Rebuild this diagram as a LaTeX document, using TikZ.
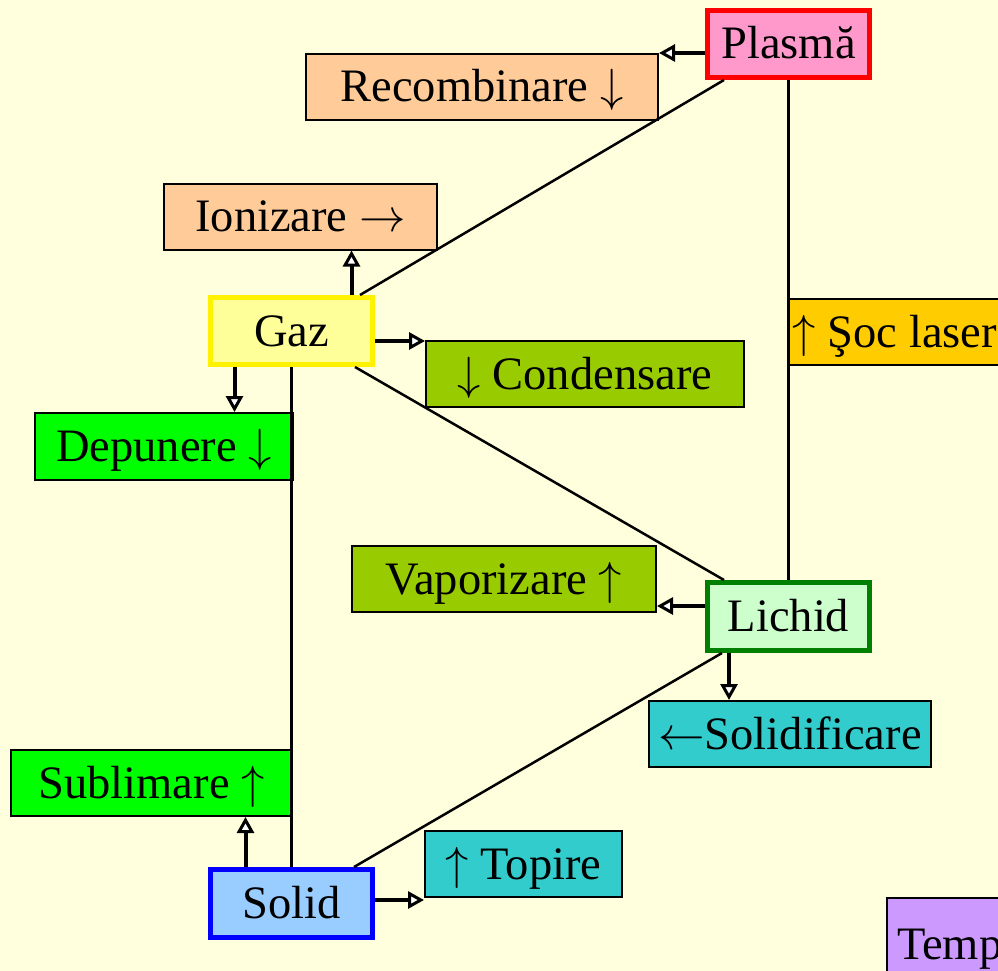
\documentclass[tikz,border=0pt]{standalone}
\usepackage{graphicx}
\usepackage{fontspec}
\setmainfont{Liberation Serif}
\usetikzlibrary{arrows.meta}
\definecolor{bg}{HTML}{FFFFDD}
\definecolor{peach}{HTML}{FFCC99}
\definecolor{olive}{HTML}{99CC00}
\definecolor{lgreen}{HTML}{00FF00}
\definecolor{teal2}{HTML}{33CCCC}
\definecolor{gold}{HTML}{FFCC00}
\definecolor{pinkf}{HTML}{FF99CC}
\definecolor{yelf}{HTML}{FFFF99}
\definecolor{mintf}{HTML}{CCFFCC}
\definecolor{bluef}{HTML}{99CCFF}
\definecolor{violf}{HTML}{CC99FF}
\definecolor{dgreen}{HTML}{008000}
\newcommand{\au}{\scalebox{4.65}{\fontsize{10}{12}\selectfont$\uparrow$}}
\newcommand{\ad}{\scalebox{4.65}{\fontsize{10}{12}\selectfont$\downarrow$}}
\newcommand{\al}{\scalebox{4.65}{\fontsize{10}{12}\selectfont$\leftarrow$}}
\newcommand{\ar}{\scalebox{4.65}{\fontsize{10}{12}\selectfont$\rightarrow$}}
\tikzset{
  lbl/.style={draw=black, line width=2pt, inner sep=0pt, font=\fontsize{46.5}{52}\selectfont, minimum height=66pt, text height=37pt, text depth=7pt},
  state/.style={line width=5pt, inner sep=0pt, font=\fontsize{46.5}{52}\selectfont, minimum width=162pt, text height=37pt, text depth=7pt},
  arr/.style={line width=4pt, -{Triangle[open, fill=white, line width=3pt, length=16pt, width=17pt]}},
  thin/.style={line width=2.5pt}
}
\begin{document}
\begin{tikzpicture}[x=1pt, y=-1pt]
\fill[bg] (0,0) rectangle (998,971);
\useasboundingbox (0,0) rectangle (998,971);
\begin{scope}
\clip (0,0) rectangle (998,971);
% state nodes
\node[state, draw=red, fill=pinkf, minimum height=67pt] (plasma) at (788.5,44) {Plasmă};
\node[state, draw=yellow, fill=yelf, minimum height=67pt] (gaz) at (291.5,331) {Gaz};
\node[state, draw=dgreen, fill=mintf, minimum height=68pt] (lichid) at (788.5,616.5) {Lichid};
\node[state, draw=blue, fill=bluef, minimum height=68pt] (solid) at (291.5,903.5) {Solid};
% label nodes
\node[lbl, fill=peach, minimum width=352pt] (recomb) at (482,87) {Recombinare \ad};
\node[lbl, fill=peach, minimum width=273pt] (ioniz) at (300.5,216.5) {Ionizare \ar};
\node[lbl, fill=olive, minimum width=318pt] (cond) at (585,374) {\ad{} Condensare};
\node[lbl, fill=lgreen, minimum width=258pt, minimum height=67pt] (depun) at (164,446.5) {Depunere \ad};
\node[lbl, fill=gold, minimum width=212pt, anchor=west, inner xsep=1pt] (soc) at (788,332) {\au{} Şoc laser};
\node[lbl, fill=olive, minimum width=304pt] (vapor) at (504,579) {Vaporizare \au};
\node[lbl, fill=teal2, minimum width=282pt] (solidif) at (790,734) {\al Solidificare};
\node[lbl, fill=lgreen, minimum width=281pt] (sublim) at (151.5,783) {Sublimare \au};
\node[lbl, fill=teal2, minimum width=197pt] (topire) at (523.5,864) {\au{} Topire};
\node[lbl, fill=violf, anchor=north west, minimum width=200pt, minimum height=92pt, text width=186pt, align=left, inner xsep=10pt] (temp) at (886,897) {Temp};
% connecting lines
\draw[thin] ([xshift=19pt]plasma.south west) -- ([xshift=-15pt]gaz.north east);
\draw[thin] (plasma.south) -- (lichid.north);
\draw[thin] ([xshift=-20pt]gaz.south east) -- ([xshift=19pt]lichid.north west);
\draw[thin] (gaz.south) -- (solid.north);
\draw[thin] ([xshift=17pt]lichid.south west) -- ([xshift=-21pt]solid.north east);
% arrows
\coordinate (a1) at ([yshift=-9pt]plasma.west);
\draw[arr] (a1) -- (a1 -| recomb.east);
\coordinate (a2) at ([xshift=60pt]gaz.north);
\draw[arr] (a2) -- (a2 |- ioniz.south);
\coordinate (a3) at ([yshift=-10pt]gaz.east);
\draw[arr] (a3) -- (a3 -| cond.west);
\coordinate (a4) at ([xshift=-57pt]gaz.south);
\draw[arr] (a4) -- (a4 |- depun.north);
\coordinate (a5) at ([yshift=10.5pt]lichid.west);
\draw[arr] (a5) -- (a5 -| vapor.east);
\coordinate (a6) at ([xshift=-59.5pt]lichid.south);
\draw[arr] (a6) -- (a6 |- solidif.north);
\coordinate (a7) at ([xshift=-46pt]solid.north);
\draw[arr] (a7) -- (a7 |- sublim.south);
\coordinate (a8) at ([yshift=3.5pt]solid.east);
\draw[arr] (a8) -- (a8 -| topire.west);
\end{scope}
\end{tikzpicture}
\end{document}
